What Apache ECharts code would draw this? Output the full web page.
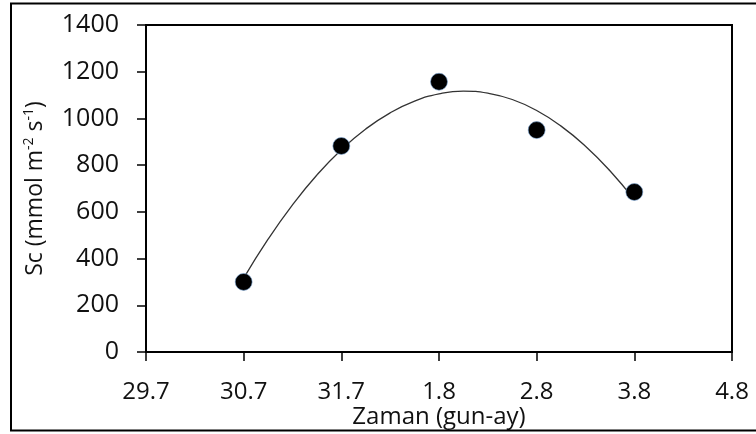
<!DOCTYPE html>
<html>
<head>
<meta charset="utf-8">
<script src="https://cdn.jsdelivr.net/npm/echarts@6/dist/echarts.min.js"></script>
<style>
html,body{margin:0;padding:0;background:#fff;}
#c{width:756px;height:434px;}
</style>
</head>
<body>
<div id="c"></div>
<script>
// Tick labels of the x axis (day.month)
var xTickLabels = ['29.7', '30.7', '31.7', '1.8', '2.8', '3.8', '4.8'];
// Observed points: x position index and Sc value
var pointX = [1, 2, 3, 4, 5];
var pointY = [300, 882, 1157, 950, 685];
// Trend curve
var trendX = [1, 1.25, 1.5, 1.75, 2, 2.25, 2.5, 2.75, 3, 3.25, 3.5, 3.75, 4, 4.25, 4.5, 4.75, 5];
var trendY = [316, 483, 630, 758, 866, 955, 1024, 1074, 1105, 1117, 1108, 1081, 1034, 967, 881, 776, 652];

var FONT = '"Open Sans", "Noto Sans", sans-serif';
var TXT = '#111';

var chart = echarts.init(document.getElementById('c'), null, {renderer: 'canvas'});

var pts = pointX.map(function (x, i) { return [x, pointY[i]]; });
var trend = trendX.map(function (x, i) { return [x, trendY[i]]; });

chart.setOption({
  animation: false,
  backgroundColor: '#fff',
  grid: {
    left: 146, top: 25, right: 24, bottom: 82,
    containLabel: false,
    outerBoundsMode: 'none',
    show: true, borderColor: '#000', borderWidth: 2, backgroundColor: 'transparent'
  },
  graphic: [{
    type: 'rect',
    shape: {x: 11, y: 3.5, width: 780, height: 427},
    style: {fill: 'none', stroke: '#000', lineWidth: 2},
    silent: true, z: 100
  }],
  xAxis: {
    type: 'value', min: 0, max: 6, interval: 1,
    name: 'Zaman (gun-ay)',
    nameLocation: 'middle',
    nameGap: 53,
    nameMoveOverlap: false,
    nameTextStyle: {fontFamily: FONT, fontSize: 24, color: TXT},
    splitLine: {show: false},
    axisLine: {onZero: false, lineStyle: {color: '#000', width: 2}},
    axisTick: {length: 9, lineStyle: {color: '#000', width: 1.5}},
    axisLabel: {
      margin: 28, fontFamily: FONT, fontSize: 24, color: TXT,
      formatter: function (v) { return xTickLabels[Math.round(v)]; }
    }
  },
  yAxis: {
    type: 'value', min: 0, max: 1400, interval: 200,
    name: 'Sc (mmol m{sup|-2} s{sup|-1})',
    nameLocation: 'middle',
    nameRotate: 90,
    nameGap: 98,
    nameMoveOverlap: false,
    nameTextStyle: {
      fontFamily: FONT, fontSize: 23, color: TXT,
      rich: {
        sup: {fontFamily: FONT, fontSize: 14, color: TXT, verticalAlign: 'top', padding: [0, 0, 12, 0]}
      }
    },
    splitLine: {show: false},
    axisLine: {onZero: false, lineStyle: {color: '#000', width: 2}},
    axisTick: {length: 9, lineStyle: {color: '#000', width: 1.5}},
    axisLabel: {
      margin: 27, fontFamily: FONT, fontSize: 25, color: TXT,
      formatter: function (v) { return String(v); }
    }
  },
  series: [{
    type: 'line',
    data: trend,
    smooth: true,
    symbol: 'none',
    lineStyle: {color: '#333', width: 1.3},
    z: 2
  }, {
    type: 'scatter',
    data: pts,
    symbol: 'circle',
    symbolSize: 17,
    itemStyle: {color: '#000', opacity: 1, borderColor: '#7aa6d6', borderWidth: 0.6},
    z: 3
  }]
});
</script>
</body>
</html>
